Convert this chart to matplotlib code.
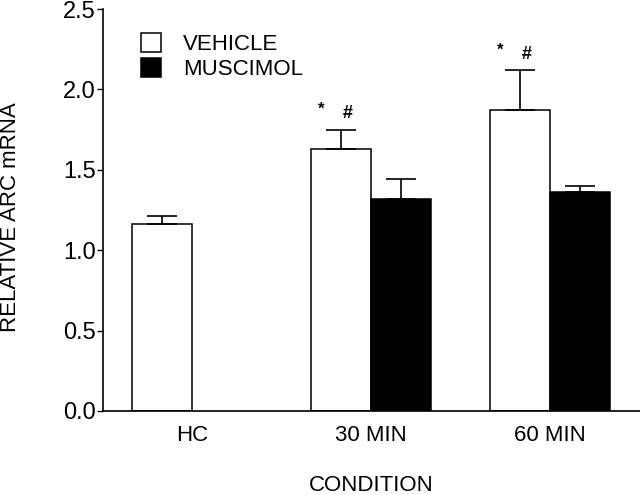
import matplotlib
matplotlib.use("Agg")
import matplotlib.pyplot as plt
import numpy as np

# values
conditions = ["HC", "30 MIN", "60 MIN"]
vehicle_mean = [1.16, 1.63, 1.87]
vehicle_sem = [0.05, 0.12, 0.25]
muscimol_mean = [np.nan, 1.32, 1.36]
muscimol_sem = [np.nan, 0.12, 0.04]
marks = ["", "*", "*"]
marks2 = ["", "#", "#"]

plt.rcParams['font.family'] = ['Liberation Sans', 'DejaVu Sans']

fig = plt.figure(figsize=(6.4, 4.95), dpi=100)
ax = fig.add_axes([0.161, 0.1697, 0.839, 0.812])

x = np.arange(len(conditions))
w = 0.333

err_kw = dict(ecolor='black', elinewidth=1.2, capsize=11, capthick=1.2)
ax.bar(x - w / 2, vehicle_mean, w, color='white', edgecolor='black', linewidth=1.1,
       yerr=[np.zeros(3), vehicle_sem], error_kw=err_kw, label='VEHICLE')
mm = np.array(muscimol_mean)
ms = np.array(muscimol_sem)
ok = ~np.isnan(mm)
ax.bar(x[ok] + w / 2, mm[ok], w, color='black', edgecolor='black', linewidth=1.1,
       yerr=[np.zeros(ok.sum()), ms[ok]], error_kw=err_kw, label='MUSCIMOL')

# significance marks above vehicle bars
for i in range(len(conditions)):
    if marks[i]:
        top = vehicle_mean[i] + vehicle_sem[i]
        ax.text(x[i] - w / 2 - 0.11, top + 0.125, marks[i], ha='center', va='center',
                fontsize=12, fontweight='bold')
        ax.text(x[i] - w / 2 + 0.035, top + 0.10, marks2[i], ha='center', va='center',
                fontsize=13, fontweight='bold')

ax.set_xlim(-0.497, 2.503)
ax.set_ylim(0, 2.5)
ax.set_yticks([0.0, 0.5, 1.0, 1.5, 2.0, 2.5])
ax.set_yticklabels(["0.0", "0.5", "1.0", "1.5", "2.0", "2.5"])
ax.set_xticks(x)
ax.set_xticklabels(conditions)
ax.tick_params(axis='y', direction='out', length=4, width=1, labelsize=17, pad=1)
ax.tick_params(axis='x', length=0, labelsize=16, pad=10)
for s in ['top', 'right']:
    ax.spines[s].set_visible(False)
ax.spines['left'].set_linewidth(1.2)
ax.spines['bottom'].set_linewidth(1.2)

ax.set_ylabel("RELATIVE ARC mRNA", fontsize=16, va='center')
ax.yaxis.set_label_coords(-0.172, 0.482)
ax.set_xlabel("CONDITION", fontsize=16, va='center')
ax.xaxis.set_label_coords(0.5, -0.186)

ax.legend(loc='upper left', bbox_to_anchor=(0.07, 0.94), frameon=False, fontsize=16,
          borderaxespad=0, borderpad=0,
          handlelength=0.9, handleheight=0.9, handletextpad=1.0, labelspacing=0.15)

fig.savefig("out.png", dpi=100)
